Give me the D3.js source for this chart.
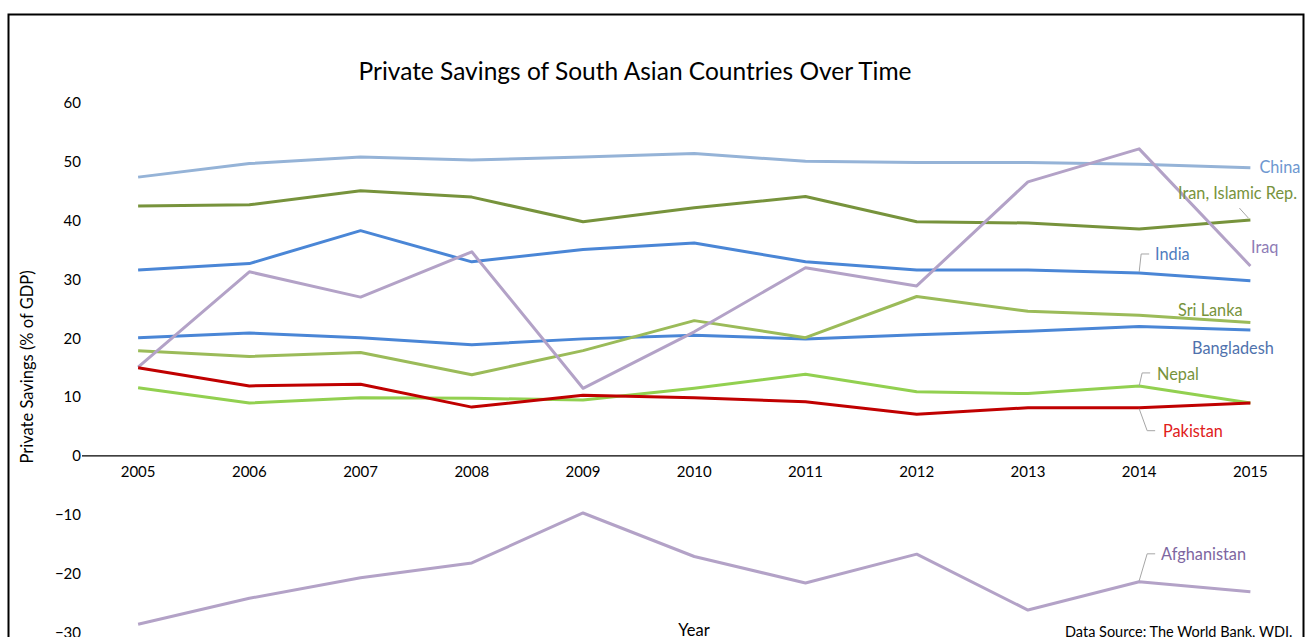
<!DOCTYPE html>
<html><head><meta charset="utf-8">
<script src="https://cdn.jsdelivr.net/npm/d3@7"></script>
<style>body{margin:0;background:#fff;} svg{display:block;font-family:Lato,"Open Sans",sans-serif;}</style>
</head><body><div id="chart"></div>
<script>
const years = [2005,2006,2007,2008,2009,2010,2011,2012,2013,2014,2015];
const yTicks = [-30,-20,-10,0,10,20,30,40,50,60];
const china       = [47.4,49.7,50.8,50.3,50.8,51.4,50.1,49.9,49.9,49.6,49.0];
const iran        = [42.5,42.7,45.1,44.0,39.8,42.2,44.1,39.8,39.6,38.6,40.1];
const india       = [31.6,32.7,38.3,33.0,35.1,36.2,33.0,31.6,31.6,31.1,29.8];
const iraq        = [15.1,31.3,27.0,34.7,11.5,21.1,32.0,28.9,46.6,52.2,32.3];
const sriLanka    = [17.9,16.9,17.6,13.8,17.9,23.0,20.1,27.1,24.6,23.9,22.7];
const bangladesh  = [20.1,20.9,20.1,18.9,19.9,20.5,19.9,20.6,21.2,22.0,21.4];
const nepal       = [11.6,9.0,9.9,9.8,9.5,11.5,13.9,10.9,10.6,11.9,9.0];
const pakistan    = [15.0,11.9,12.2,8.3,10.3,9.9,9.2,7.1,8.2,8.2,9.0];
const afghanistan = [-28.6,-24.2,-20.7,-18.2,-9.7,-17.1,-21.6,-16.7,-26.2,-21.4,-23.1];

const series = [
  {name:"China", values:china, color:"#95B3D7", label:"#6E97D0"},
  {name:"Iran, Islamic Rep.", values:iran, color:"#77933C", label:"#77933C"},
  {name:"India", values:india, color:"#4A86D6", label:"#4F7DBE"},
  {name:"Iraq", values:iraq, color:"#B3A2C7", label:"#8E7CB6"},
  {name:"Sri Lanka", values:sriLanka, color:"#9BBB59", label:"#77933C"},
  {name:"Bangladesh", values:bangladesh, color:"#4A86D6", label:"#4F72AD"},
  {name:"Nepal", values:nepal, color:"#92D050", label:"#77933C"},
  {name:"Pakistan", values:pakistan, color:"#C00000", label:"#E0201B"},
  {name:"Afghanistan", values:afghanistan, color:"#B3A2C7", label:"#7D66A0"}
];

const W = 1311, H = 637;
const svg = d3.select("#chart").append("svg").attr("width", W).attr("height", H);

svg.append("rect").attr("x",8.5).attr("y",14.5).attr("width",1295).attr("height",700)
  .attr("fill","none").attr("stroke","#000").attr("stroke-width",2);

const x = d3.scaleBand().domain(years).range([82.5, 1306]);
const y = d3.scaleLinear().domain([-30, 60]).range([632.4, 103]);

// title
svg.append("text").attr("x", 635).attr("y", 80).attr("text-anchor","middle")
  .attr("font-size", 24.5).attr("fill","#000").text("Private Savings of South Asian Countries Over Time");

// y axis labels
const yAxis = d3.axisLeft(y).tickValues(yTicks).tickSize(0).tickPadding(0);
const gy = svg.append("g").attr("transform","translate(81,0)").call(yAxis);
gy.select(".domain").remove();
gy.selectAll("text").attr("font-size",15).attr("fill","#000").attr("font-family","Lato,'Open Sans',sans-serif");

// zero axis line
svg.append("line").attr("x1",82).attr("x2",1304).attr("y1",y(0)).attr("y2",y(0))
  .attr("stroke","#000").attr("stroke-width",1.3);

// x axis labels
const xAxis = d3.axisBottom(x).tickSize(0).tickPadding(0);
const gx = svg.append("g").attr("transform",`translate(0,${y(0)+17})`).call(xAxis);
gx.select(".domain").remove();
gx.selectAll("text").attr("font-size",15).attr("fill","#000").attr("dy","0.3em").attr("font-family","Lato,'Open Sans',sans-serif");

// axis titles
svg.append("text").attr("transform","translate(33,367) rotate(-90)").attr("text-anchor","middle")
  .attr("font-size",16.5).attr("fill","#000").text("Private Savings (% of GDP)");
svg.append("text").attr("x",694).attr("y",636).attr("text-anchor","middle")
  .attr("font-size",16.5).attr("fill","#000").text("Year");
svg.append("text").attr("x",1065).attr("y",637).attr("font-size",14.5).attr("fill","#000")
  .text("Data Source: The World Bank, WDI.");

const cx = yr => x(yr) + x.bandwidth()/2;
const line = d3.line().x((d,i)=>cx(years[i])).y(d=>y(d));

// draw order: back to front
const order = ["China","Iran, Islamic Rep.","India","Bangladesh","Sri Lanka","Nepal","Iraq","Pakistan","Afghanistan"];
order.forEach(n=>{
  const s = series.find(d=>d.name===n);
  svg.append("path").datum(s.values).attr("d",line).attr("fill","none")
    .attr("stroke",s.color).attr("stroke-width",3).attr("stroke-linejoin","round");
});

// labels
const idx14 = years.indexOf(2014), idx15 = years.indexOf(2015);
function lab(name, px, py){
  const s = series.find(d=>d.name===name);
  svg.append("text").attr("x",px).attr("y",py).attr("dy","0.35em").attr("font-size",16.3)
    .attr("fill",s.label).text(name);
}
function leader(pts){
  svg.append("path").attr("d", d3.line()(pts)).attr("fill","none").attr("stroke","#A6A6A6").attr("stroke-width",1);
}
const p = (arr,i)=>[cx(years[i]), y(arr[i])];

lab("China", cx(2015)+9, y(china[idx15]));
lab("Iran, Islamic Rep.", 1178, y(iran[idx15])-27);
leader([[p(iran,idx15)[0]-2, p(iran,idx15)[1]-2],[p(iran,idx15)[0]-11, p(iran,idx15)[1]-12]]);
lab("Iraq", 1251, 247);
lab("India", 1155, y(india[idx14])-19);
leader([[p(india,idx14)[0], p(india,idx14)[1]-1],[p(india,idx14)[0]+2, p(india,idx14)[1]-19],[p(india,idx14)[0]+10, p(india,idx14)[1]-19]]);
lab("Sri Lanka", 1178, y(sriLanka[idx15])-12);
lab("Bangladesh", 1192, y(bangladesh[idx15])+18);
lab("Nepal", 1157, y(nepal[idx14])-12);
leader([[p(nepal,idx14)[0], p(nepal,idx14)[1]],[p(nepal,idx14)[0]+3, p(nepal,idx14)[1]-13],[p(nepal,idx14)[0]+11, p(nepal,idx14)[1]-13]]);
lab("Pakistan", 1163, y(pakistan[idx14])+24);
leader([[p(pakistan,idx14)[0], p(pakistan,idx14)[1]+1],[p(pakistan,idx14)[0]+8, p(pakistan,idx14)[1]+23],[p(pakistan,idx14)[0]+16, p(pakistan,idx14)[1]+23]]);
lab("Afghanistan", 1161, y(afghanistan[idx14])-28);
leader([[p(afghanistan,idx14)[0], p(afghanistan,idx14)[1]-1],[p(afghanistan,idx14)[0]+8, p(afghanistan,idx14)[1]-28],[p(afghanistan,idx14)[0]+16, p(afghanistan,idx14)[1]-28]]);
</script></body></html>
